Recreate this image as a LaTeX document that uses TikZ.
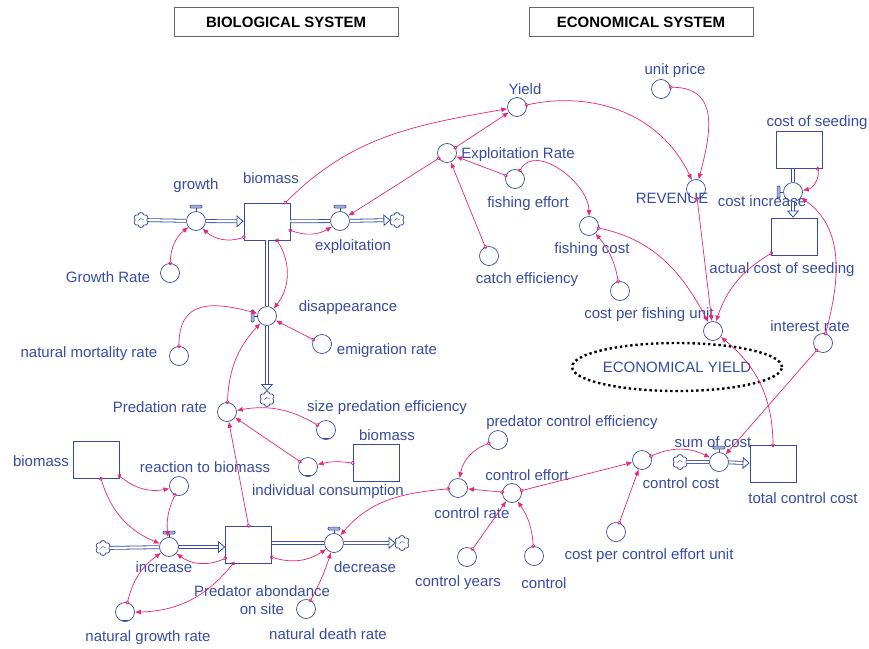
\documentclass[tikz,border=0pt]{standalone}
\usepackage{fontspec}
\setmainfont{Liberation Sans}
\usetikzlibrary{arrows.meta,shapes.symbols,shapes.geometric,calc}
\definecolor{vblue}{RGB}{55,75,165}
\definecolor{vpink}{RGB}{232,38,118}
\tikzset{
	aux/.style={circle,draw=vblue,fill=white,line width=0.7pt,minimum size=19pt,inner sep=0pt},
	valve/.style={aux},
	stock/.style={rectangle,draw=vblue,line width=0.7pt,minimum width=46pt,minimum height=37pt,inner sep=0pt},
	sink/.style={cloud,cloud puffs=6,cloud puff arc=160,aspect=1,draw=vblue,line width=0.8pt,minimum width=15pt,minimum height=15pt,inner sep=0pt,
		path picture={\draw[vblue,line width=0.5pt] ([shift={(-2.5,-0.5)}]path picture bounding box.center) to[bend left=70] ([shift={(2.5,0.5)}]path picture bounding box.center);}},
	lbl/.style={text=vblue,font=\fontsize{15}{18}\selectfont,inner sep=1pt},
	title/.style={draw=black!60,line width=0.8pt,minimum width=224pt,minimum height=29pt,font=\bfseries\fontsize{15}{18}\selectfont},
	infl/.style={draw=vpink,line width=0.7pt,shorten <=-2pt,{Circle[open,length=4pt,width=4pt]}-{Latex[length=6pt,width=5pt]}},
	pipe/.style={draw=vblue,double=white,double distance=2.2pt,line width=0.8pt},
	pipehead/.style={-{Triangle[open,length=7pt,width=12pt]}},
	handle/.style={draw=vblue,line width=0.7pt},
	handlebar/.style={draw=vblue,fill=vblue!45,line width=0.6pt,rounded corners=1pt}
}
\begin{document}
\begin{tikzpicture}[x=1pt,y=1pt,>=latex]
	\useasboundingbox (0,0) rectangle (869,-648);
	
	% Titles
	\node[title] (biosys) at (286,-22) {BIOLOGICAL SYSTEM};
	\node[title] (ecosys) at (641,-22) {ECONOMICAL SYSTEM};
	
	% Biomass stock with its flows
	\node[stock] (bio) at (267,-221.5) {};
	\node[sink] (src1) at (141,-220) {};
	\node[valve] (grw) at (196,-221) {};
	\node[valve] (expl) at (340,-221) {};
	\node[sink] (snk1) at (397,-220) {};
	\node[valve] (disap) at (267,-316) {};
	\node[sink] (snk2) at (267,-399) {};
	\node[aux] (grate) at (170,-273) {};
	\node[aux] (nmort) at (179,-356) {};
	\node[aux] (emig) at (322,-344) {};
	
	\node[lbl] (grwt) at (196,-186) {growth};
	\node[lbl] (biot) at (271,-178) {biomass};
	\node[lbl] (explt) at (353,-247) {exploitation};
	\node[lbl] (gratet) at (108,-277) {Growth Rate};
	\node[lbl] (disapt) at (348,-308) {disappearance};
	\node[lbl] (nmortt) at (89,-354) {natural mortality rate};
	\node[lbl] (emigt) at (387,-351) {emigration rate};
	
	% Predator part
	\node[aux] (pred) at (227,-412) {};
	\node[aux] (spe) at (326,-430) {};
	\node[stock] (bio2) at (376,-463) {};
	\node[aux] (ic) at (308,-467) {};
	\node[stock] (bio3) at (96,-460) {};
	\node[aux] (rtb) at (179,-486) {};
	\node[sink] (src2) at (103,-548) {};
	\node[valve] (incr) at (169,-547) {};
	\node[stock] (pas) at (248.5,-544.5) {};
	\node[valve] (decr) at (334,-543) {};
	\node[sink] (snk3) at (402,-543) {};
	\node[aux] (ngr) at (125,-612) {};
	\node[aux] (ndr) at (306,-609) {};
	
	\node[lbl] (predt) at (160,-407) {Predation rate};
	\node[lbl] (spet) at (387,-408) {size predation efficiency};
	\node[lbl] (bio2t) at (387,-435) {biomass};
	\node[lbl] (ict) at (328,-492) {individual consumption};
	\node[lbl] (bio3t) at (41,-461) {biomass};
	\node[lbl] (rtbt) at (205,-467) {reaction to biomass};
	\node[lbl] (incrt) at (164,-567) {increase};
	\node[lbl,align=center] (past) at (262,-600) {Predator abondance\\on site};
	\node[lbl] (decrt) at (365,-567) {decrease};
	\node[lbl] (ngrt) at (148,-638) {natural growth rate};
	\node[lbl] (ndrt) at (328,-634) {natural death rate};
	
	% Economical part
	\node[aux] (yield) at (517,-107) {};
	\node[aux] (expr) at (447,-153) {};
	\node[aux] (feff) at (515,-179) {};
	\node[aux] (catch) at (489,-256) {};
	\node[aux] (uprice) at (661,-89) {};
	\node[aux] (rev) at (696,-189) {};
	\node[aux] (fcost) at (589,-226) {};
	\node[aux] (cpfu) at (620,-291) {};
	\node[stock] (cseed) at (799.5,-150) {};
	\node[valve] (cinc) at (793,-192) {};
	\node[stock] (acs) at (794.5,-236.5) {};
	\node[aux] (ey) at (713,-331) {};
	\node[aux] (irate) at (823,-343) {};
	\node[stock] (tcc) at (773,-464) {};
	\node[valve] (sumc) at (719,-462) {};
	\node[sink] (src4) at (680,-462) {};
	\node[aux] (ccost) at (642,-460) {};
	\node[aux] (ceff) at (512,-493) {};
	\node[aux] (crate) at (458,-488) {};
	\node[aux] (pce) at (498,-440) {};
	\node[aux] (cyears) at (467,-557) {};
	\node[aux] (ctrl) at (534,-556) {};
	\node[aux] (cpceu) at (616,-532) {};
	
	\node[lbl] (yieldt) at (525,-89) {Yield};
	\node[lbl] (exprt) at (518,-155) {Exploitation Rate};
	\node[lbl] (fefft) at (528,-204) {fishing effort};
	\node[lbl] (catcht) at (527,-280) {catch efficiency};
	\node[lbl] (upricet) at (675,-71) {unit price};
	\node[lbl] (revt) at (672,-198) {REVENUE};
	\node[lbl] (fcostt) at (592,-250) {fishing cost};
	\node[lbl] (cpfut) at (649,-315) {cost per fishing unit};
	\node[lbl] (cseedt) at (817,-123) {cost of seeding};
	\node[lbl] (cinct) at (762,-201) {cost increase};
	\node[lbl] (acst) at (782,-270) {actual cost of seeding};
	\node[lbl] (iratet) at (810,-326) {interest rate};
	\node[lbl] (tcct) at (803,-498) {total control cost};
	\node[lbl] (sumct) at (713,-442) {sum of cost};
	\node[lbl] (ccostt) at (681,-483) {control cost};
	\node[lbl] (cefft) at (527,-475) {control effort};
	\node[lbl] (cratet) at (472,-513) {control rate};
	\node[lbl] (pcet) at (572,-423) {predator control efficiency};
	\node[lbl] (cyearst) at (458,-583) {control years};
	\node[lbl] (ctrlt) at (544,-583) {control};
	\node[lbl] (cpceut) at (649,-556) {cost per control effort unit};
	\node[lbl,ellipse,draw=black,line width=2.4pt,dash pattern=on 2.4pt off 2.8pt,minimum width=188pt,minimum height=48pt,inner sep=0pt] (eyt) at (677,-367) {ECONOMICAL YIELD};
	
	% Valve handles
	\foreach \v in {grw,expl,incr,decr,sumc}{
		\draw[handle] (\v.north) -- ++(0,3);
		\draw[handlebar] ([shift={(-6,3)}]\v.north) rectangle ++(12,3);
	}
	\foreach \v in {disap,cinc}{
		\draw[handle] (\v.west) -- ++(-3,0);
		\draw[handlebar] ([shift={(-3,-6)}]\v.west) rectangle ++(-3,12);
	}
	% lookup marks
	\foreach \v in {spe,ic,ngr}
		\draw[vblue,line width=1pt] ([xshift=-3pt,yshift=1.3pt]\v.south) .. controls +(2,1.5) and +(-2,-1.5) .. ([xshift=3pt,yshift=1.3pt]\v.south);
	
	% Pipes
	\draw[pipe] (src1) -- (grw);
	\draw[pipe,pipehead] (grw) -- (bio);
	\draw[pipe] (bio) -- (expl);
	\draw[pipe,pipehead] (expl) -- (snk1);
	\draw[pipe] (bio) -- (disap);
	\draw[pipe,pipehead] (disap) -- (snk2);
	\draw[pipe] (src2) -- (incr);
	\draw[pipe,pipehead] (incr) -- (incr -| pas.west);
	\draw[pipe] (decr -| pas.east) -- (decr);
	\draw[pipe,pipehead] (decr) -- (snk3);
	\draw[pipe] (cinc |- cseed.south) -- (cinc);
	\draw[pipe,pipehead] (cinc) -- (cinc |- acs.north);
	\draw[pipe] (src4) -- (sumc);
	\draw[pipe,pipehead] (sumc) -- (tcc);
	
	% Influences, biological
	\draw[infl] ([xshift=-5pt]bio.north east) to[out=45,in=190] (yield);
	\draw[infl] ([yshift=3pt]bio.south west) to[bend left=30] (grw);
	\draw[infl] (grate) to[bend left=25] (grw);
	\draw[infl] ([yshift=10pt]bio.south east) to[bend right=25] (expl);
	\draw[infl] ([xshift=10pt]bio.south) to[bend left=35] (disap);
	\draw[infl] (nmort) to[out=90,in=165,looseness=1.4] (disap);
	\draw[infl] (emig) -- (disap);
	\draw[infl] (pred) to[bend left=20] (disap);
	\draw[infl] (spe) to[bend right=20] (pred);
	\draw[infl] (ic) -- (pred);
	\draw[infl] (bio2.west) to[bend right=10] (ic);
	\draw[infl] (pas.north) -- (pred);
	\draw[infl] ([yshift=3pt]bio3.south east) to[bend right=25] (rtb);
	\draw[infl] ([xshift=5pt]bio3.south) to[bend right=25] (incr);
	\draw[infl] (rtb) to[bend right=15] (incr);
	\draw[infl] ([yshift=5pt]pas.south west) to[bend left=30] (incr);
	\draw[infl] ([xshift=8pt]pas.south west) to[bend left=25] (ngr);
	\draw[infl] (ngr) to[bend left=20] (incr);
	\draw[infl] ([yshift=6pt]pas.south east) to[bend right=25] (decr);
	\draw[infl] (ndr) to[bend right=5] (decr);
	
	% Influences, economical
	\draw[infl] (expr) -- (expl);
	\draw[infl] (expr) -- (yield);
	\draw[infl] (feff) -- (expr);
	\draw[infl] (catch) -- (expr);
	\draw[infl] (feff) to[out=60,in=90] (fcost);
	\draw[infl] (yield) to[out=12,in=115] (rev);
	\draw[infl] (uprice.10) to[out=0,in=75,looseness=1.3] (rev);
	\draw[infl] (rev) -- (ey);
	\draw[infl] (fcost) to[out=-12,in=118] (ey);
	\draw[infl] (cpfu) to[bend right=15] (fcost);
	\draw[infl] ([yshift=2pt]acs.south west) to[bend right=20] (ey);
	\draw[infl] ([xshift=-5pt]cseed.south east) to[out=-80,in=10] (cinc);
	\draw[infl] (irate) to[out=75,in=-35] (cinc);
	\draw[infl] (irate) -- (sumc);
	\draw[infl] (tcc.north) to[bend right=25] (ey);
	\draw[infl] (ccost) to[bend left=25] (sumc);
	\draw[infl] (cpceu) -- (ccost);
	\draw[infl] (ceff) -- (ccost);
	\draw[infl] (ceff) -- (crate);
	\draw[infl] (cyears) -- (ceff);
	\draw[infl] (ctrl) to[bend right=15] (ceff);
	\draw[infl] (pce) to[bend right=30] (crate);
	\draw[infl] (crate) to[out=185,in=50] (decr);
	
\end{tikzpicture}
\end{document}
